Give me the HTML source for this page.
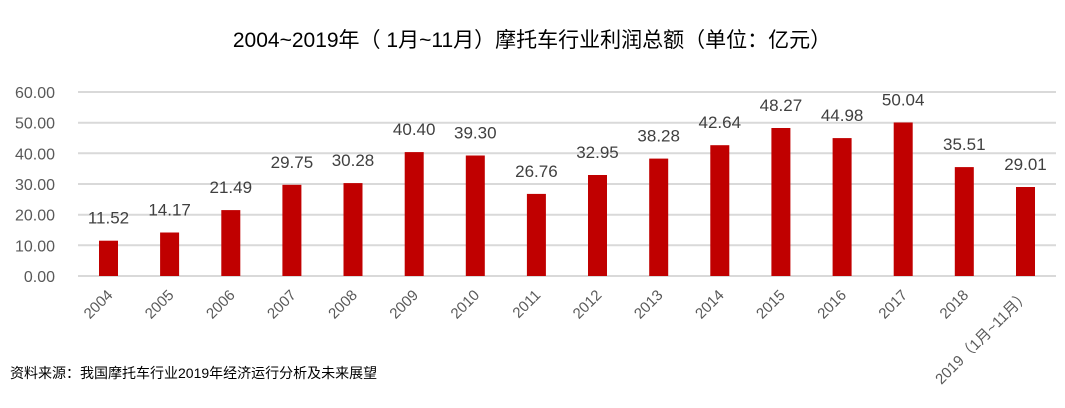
<!DOCTYPE html>
<html><head><meta charset="utf-8"><style>
body{margin:0;background:#fff;}
svg{display:block;font-family:"Liberation Sans","Noto Sans CJK SC",sans-serif;}
</style></head><body>
<svg width="1065" height="408" viewBox="0 0 1065 408" xmlns="http://www.w3.org/2000/svg">
<text x="532" y="47" text-anchor="middle" font-size="21" fill="#000">2004~2019年（ 1月~11月）摩托车行业利润总额（单位：亿元）</text>
<g stroke="#d9d9d9" stroke-width="2">
<line x1="78" x2="1056" y1="92" y2="92"/>
<line x1="78" x2="1056" y1="122.7" y2="122.7"/>
<line x1="78" x2="1056" y1="153.3" y2="153.3"/>
<line x1="78" x2="1056" y1="184" y2="184"/>
<line x1="78" x2="1056" y1="214.7" y2="214.7"/>
<line x1="78" x2="1056" y1="245.3" y2="245.3"/>
<line x1="78" x2="1056" y1="276" y2="276"/>
</g>
<g font-size="16" fill="#595959" text-anchor="end">
<text x="55" y="98">60.00</text>
<text x="55" y="128.7">50.00</text>
<text x="55" y="159.3">40.00</text>
<text x="55" y="190">30.00</text>
<text x="55" y="220.7">20.00</text>
<text x="55" y="251.3">10.00</text>
<text x="55" y="282">0.00</text>
</g>
<g fill="#c00000">
<rect x="99" y="240.7" width="19" height="35.3"/>
<rect x="160.1" y="232.5" width="19" height="43.5"/>
<rect x="221.3" y="210.1" width="19" height="65.9"/>
<rect x="282.4" y="184.8" width="19" height="91.2"/>
<rect x="343.5" y="183.1" width="19" height="92.9"/>
<rect x="404.7" y="152.1" width="19" height="123.9"/>
<rect x="465.8" y="155.5" width="19" height="120.5"/>
<rect x="526.9" y="193.9" width="19" height="82.1"/>
<rect x="588" y="175" width="19" height="101"/>
<rect x="649.2" y="158.6" width="19" height="117.4"/>
<rect x="710.3" y="145.2" width="19" height="130.8"/>
<rect x="771.4" y="128" width="19" height="148"/>
<rect x="832.6" y="138.1" width="19" height="137.9"/>
<rect x="893.7" y="122.5" width="19" height="153.5"/>
<rect x="954.8" y="167.1" width="19" height="108.9"/>
<rect x="1016" y="187" width="19" height="89"/>
</g>
<g font-size="17" fill="#404040" text-anchor="middle">
<text x="108.5" y="223.7">11.52</text>
<text x="169.6" y="215.5">14.17</text>
<text x="230.8" y="193.1">21.49</text>
<text x="291.9" y="167.8">29.75</text>
<text x="353" y="166.1">30.28</text>
<text x="414.2" y="135.1">40.40</text>
<text x="475.3" y="138.5">39.30</text>
<text x="536.4" y="176.9">26.76</text>
<text x="597.5" y="158">32.95</text>
<text x="658.7" y="141.6">38.28</text>
<text x="719.8" y="128.2">42.64</text>
<text x="780.9" y="111">48.27</text>
<text x="842.1" y="121.1">44.98</text>
<text x="903.2" y="105.5">50.04</text>
<text x="964.3" y="150.1">35.51</text>
<text x="1025.5" y="170">29.01</text>
</g>
<g font-size="15" fill="#595959" text-anchor="end">
<text transform="translate(113.5,296) rotate(-45)">2004</text>
<text transform="translate(174.6,296) rotate(-45)">2005</text>
<text transform="translate(235.8,296) rotate(-45)">2006</text>
<text transform="translate(296.9,296) rotate(-45)">2007</text>
<text transform="translate(358,296) rotate(-45)">2008</text>
<text transform="translate(419.2,296) rotate(-45)">2009</text>
<text transform="translate(480.3,296) rotate(-45)">2010</text>
<text transform="translate(541.4,296) rotate(-45)">2011</text>
<text transform="translate(602.5,296) rotate(-45)">2012</text>
<text transform="translate(663.7,296) rotate(-45)">2013</text>
<text transform="translate(724.8,296) rotate(-45)">2014</text>
<text transform="translate(785.9,296) rotate(-45)">2015</text>
<text transform="translate(847.1,296) rotate(-45)">2016</text>
<text transform="translate(908.2,296) rotate(-45)">2017</text>
<text transform="translate(969.3,296) rotate(-45)">2018</text>
<text transform="translate(1030.5,296) rotate(-45)">2019（1月~11月）</text>
</g>
<text x="10" y="378" font-size="14" fill="#000">资料来源：我国摩托车行业2019年经济运行分析及未来展望</text>
</svg>
</body></html>
